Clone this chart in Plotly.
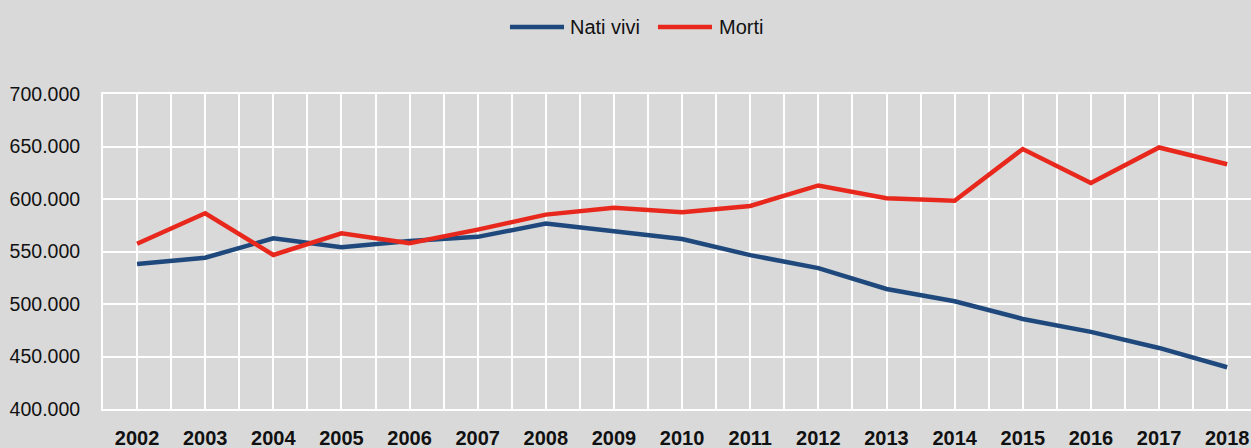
import plotly.graph_objects as go

years = list(range(2002, 2019))
nati_vivi = [538198, 544063, 562599, 554022, 560010, 563933, 576659, 568857, 561944,
             546585, 534186, 514308, 502596, 485780, 473438, 458151, 439747]
morti = [557393, 586468, 546658, 567304, 557892, 570801, 585126, 591663, 587488,
         593402, 612883, 600744, 598364, 647571, 615261, 649061, 633133]
series_names = ["Nati vivi", "Morti"]
series_colors = ["#1f497d", "#e8281c"]

BG = "#d9d9d9"
FONT = "Liberation Sans, Arial, sans-serif"
TXT = "#111111"

fig = go.Figure()
for name, vals, col in zip(series_names, [nati_vivi, morti], series_colors):
    fig.add_trace(go.Scatter(x=years, y=vals, name=name, mode="lines",
                             line=dict(color=col, width=4.5), showlegend=False))

# legend drawn as line swatches + text (long swatches like the original)
legend_items = [(0.3545, 0.4016, 0.405), (0.4834, 0.5305, 0.5348)]
for (x0, x1, xt), name, col in zip(legend_items, series_names, series_colors):
    fig.add_shape(type="line", xref="paper", yref="paper", x0=x0, x1=x1, y0=1.2127, y1=1.2127,
                  line=dict(color=col, width=4.5))
    fig.add_annotation(xref="paper", yref="paper", x=xt, y=1.2127, text=name, showarrow=False,
                       xanchor="left", yanchor="middle", font=dict(size=20, family=FONT, color=TXT))

fig.update_layout(
    width=1251, height=448,
    paper_bgcolor=BG, plot_bgcolor=BG,
    margin=dict(l=103, r=0, t=94, b=39, autoexpand=False),
    separators=",.",
    font=dict(family=FONT, size=20, color=TXT),
    showlegend=False,
    xaxis=dict(range=[2001.5, 2018.35], tick0=2002, dtick=1, tickformat="d",
               showgrid=True, gridcolor="white", gridwidth=2,
               minor=dict(dtick=0.5, tick0=2001.5, showgrid=True, gridcolor="white", gridwidth=2),
               showline=True, linecolor="white", linewidth=2, mirror=True,
               zeroline=False, automargin=False, ticklabeloverflow="allow",
               tickfont=dict(size=20, family=FONT, color=TXT, weight="bold"),
               ticklabelstandoff=10, fixedrange=True),
    yaxis=dict(range=[400000, 700000], dtick=50000, tickformat=",.0f",
               showgrid=True, gridcolor="white", gridwidth=2,
               showline=True, linecolor="white", linewidth=2,
               zeroline=False, automargin=False, ticklabeloverflow="allow",
               tickfont=dict(size=19.5, family=FONT, color=TXT),
               ticklabelstandoff=17, fixedrange=True),
)

fig.write_html("out.html", config={"displayModeBar": False},
               post_script="document.body.style.margin='0';document.body.style.background='#d9d9d9';")
